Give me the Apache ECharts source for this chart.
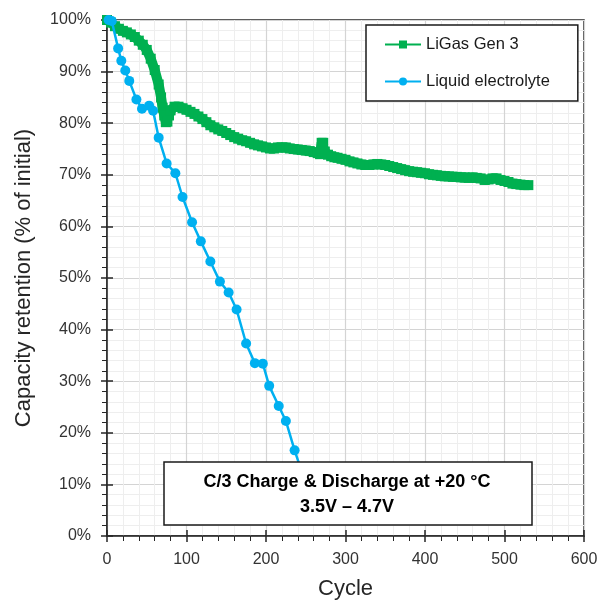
<!DOCTYPE html>
<html><head><meta charset="utf-8">
<script src="https://cdn.jsdelivr.net/npm/echarts@6/dist/echarts.min.js"></script>
<style>html,body{margin:0;padding:0;background:#fff}#c{width:602px;height:602px}</style>
</head><body><div id="c"></div>
<script>
var ligasCycles = [0,5,10,15,20,25,30,35,40,45,50,55,60,65,68,70,72,74,76,78,80,85,90,95,100,105,110,115,120,125,130,135,140,145,150,155,160,165,170,175,180,185,190,195,200,205,210,215,220,225,230,235,240,245,250,255,260,265,268,270,272,274,278,282,286,290,295,300,305,310,315,320,325,330,335,340,345,350,355,360,365,370,375,380,385,390,395,400,405,410,415,420,425,430,435,440,445,450,455,460,465,470,475,480,485,490,495,500,505,510,515,520,525,530];
var ligasValues = [100,99.5,98.8,98.3,97.9,97.6,97.2,96.7,96.0,95.2,94.2,92.5,90.3,87.5,85,83,81.5,80.2,80.3,81.5,82.5,83.2,83.2,82.9,82.6,82.2,81.8,81.3,80.8,80.2,79.6,79.2,78.8,78.5,78.1,77.7,77.3,77.0,76.7,76.5,76.2,75.9,75.7,75.5,75.3,75.1,75.1,75.3,75.3,75.3,75.1,75.0,74.9,74.8,74.7,74.6,74.4,74.2,74.0,76.2,76.2,74.5,73.9,73.6,73.4,73.3,73.1,72.9,72.6,72.4,72.2,72.0,71.9,71.9,72.0,72.1,72.0,71.9,71.7,71.5,71.3,71.1,70.9,70.7,70.6,70.5,70.4,70.3,70.1,70.0,69.9,69.8,69.7,69.7,69.6,69.6,69.5,69.5,69.4,69.5,69.4,69.3,69.0,69.1,69.3,69.3,69.0,68.8,68.6,68.3,68.2,68.1,68.0,68.0];
var liquidCycles = [2,6,14,18,23,28,37,44,53,58,65,75,86,95,107,118,130,142,153,163,175,186,196,204,216,225,236,246];
var liquidValues = [100,99.8,94.5,92.1,90.2,88.2,84.6,82.8,83.4,82.4,77.2,72.2,70.3,65.7,60.8,57.1,53.2,49.3,47.2,43.9,37.3,33.5,33.4,29.1,25.2,22.3,16.6,12.0];
var xTicks = [0,100,200,300,400,500,600];
var yTicks = [0,10,20,30,40,50,60,70,80,90,100];

function pairs(xs, ys){ return xs.map(function(x,i){return [x, ys[i]];}); }

var chart = echarts.init(document.getElementById('c'));
var font = 'Liberation Sans, Arial, sans-serif';
chart.setOption({
  animation:false,
  grid:{left:107,right:18,top:20,bottom:66,show:true,borderColor:'#262626',borderWidth:1.5,backgroundColor:'transparent',outerBoundsMode:'none',containLabel:false},
  legend:{
    orient:'vertical', left:366, top:25,
    padding:[11,28,11,18], itemGap:20, itemWidth:36, itemHeight:10,
    borderColor:'#1a1a1a', borderWidth:1.5, backgroundColor:'#fff',
    textStyle:{fontFamily:font, fontSize:16.5, color:'#1a1a1a'},
    data:['LiGas Gen 3','Liquid electrolyte']
  },
  xAxis:[{
    type:'value', min:xTicks[0], max:xTicks[xTicks.length-1], interval:100,
    name:'Cycle', nameLocation:'middle', nameGap:42,
    nameTextStyle:{fontFamily:font, fontSize:22, color:'#262626'},
    axisLine:{show:true, lineStyle:{color:'#262626', width:1.5}},
    axisTick:{show:true, length:6, lineStyle:{color:'#262626', width:1.5}},
    minorTick:{show:true, splitNumber:5, length:5, lineStyle:{color:'#262626', width:1}},
    axisLabel:{fontFamily:font, fontSize:16, color:'#333', margin:16},
    splitLine:{show:true, lineStyle:{color:'#d4d4d4', width:1.2}},
    minorSplitLine:{show:true, lineStyle:{color:'#eeeeee', width:1}}
  },{
    type:'value', position:'bottom', min:xTicks[0], max:xTicks[xTicks.length-1], interval:100,
    axisLine:{show:false}, axisLabel:{show:false}, splitLine:{show:false},
    axisTick:{show:true, inside:true, length:6, lineStyle:{color:'#262626', width:1.5}}
  }],
  yAxis:[{
    type:'value', min:yTicks[0], max:yTicks[yTicks.length-1], interval:10,
    name:'Capacity retention (% of initial)', nameLocation:'middle', nameGap:72,
    nameTextStyle:{fontFamily:font, fontSize:22, color:'#262626'},
    axisLine:{show:true, lineStyle:{color:'#262626', width:1.5}},
    axisTick:{show:true, length:6, lineStyle:{color:'#262626', width:1.5}},
    minorTick:{show:true, splitNumber:5, length:5, lineStyle:{color:'#262626', width:1}},
    axisLabel:{fontFamily:font, fontSize:16, color:'#333', margin:16, formatter:'{value}%'},
    splitLine:{show:true, lineStyle:{color:'#d4d4d4', width:1.2}},
    minorSplitLine:{show:true, lineStyle:{color:'#eeeeee', width:1}}
  },{
    type:'value', position:'left', min:yTicks[0], max:yTicks[yTicks.length-1], interval:10,
    axisLine:{show:false}, axisLabel:{show:false}, splitLine:{show:false},
    axisTick:{show:true, inside:true, length:6, lineStyle:{color:'#262626', width:1.5}}
  }],
  series:[{
    name:'LiGas Gen 3', type:'line', data:pairs(ligasCycles, ligasValues),
    symbol:'rect', symbolSize:10, showAllSymbol:true,
    itemStyle:{color:'#00b050'}, lineStyle:{color:'#00b050', width:10}, z:2
  },{
    name:'Liquid electrolyte', type:'line', data:pairs(liquidCycles, liquidValues),
    symbol:'circle', symbolSize:10, showAllSymbol:true,
    itemStyle:{color:'#00b0f0'}, lineStyle:{color:'#00b0f0', width:2.5}, z:3
  }],
  graphic:[
    {type:'rect', z:100, shape:{x:164,y:462,width:368,height:63}, style:{fill:'#ffffff', stroke:'#1a1a1a', lineWidth:1.5}},
    {type:'text', z:101, x:347, y:482, style:{text:'C/3 Charge & Discharge at +20 °C', font:'bold 18px Liberation Sans, Arial, sans-serif', fill:'#000', stroke:null, lineWidth:0, textAlign:'center', textVerticalAlign:'middle'}},
    {type:'text', z:101, x:347, y:507, style:{text:'3.5V – 4.7V', font:'bold 18px Liberation Sans, Arial, sans-serif', fill:'#000', stroke:null, lineWidth:0, textAlign:'center', textVerticalAlign:'middle'}}
  ]
});
</script></body></html>
